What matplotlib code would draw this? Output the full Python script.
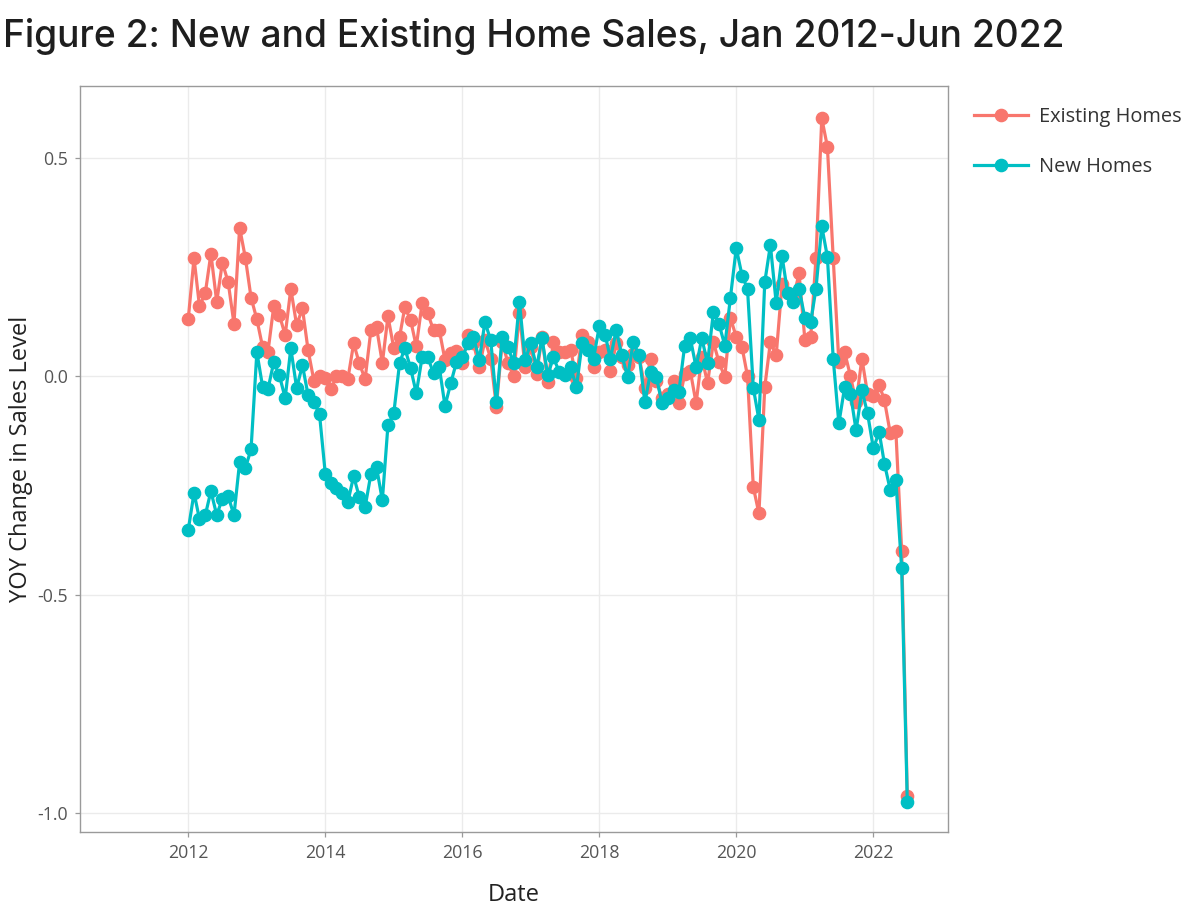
import numpy as np
import pandas as pd
import matplotlib
matplotlib.use('Agg')
import matplotlib.pyplot as plt
import matplotlib.dates as mdates

# Year-over-year change in sales level, monthly Jan 2012 - Jul 2022
existing = [
    0.13, 0.27, 0.16, 0.19, 0.28, 0.17, 0.26, 0.215, 0.12, 0.34, 0.27, 0.18,      # 2012
    0.13, 0.066, 0.055, 0.16, 0.14, 0.094, 0.20, 0.117, 0.155, 0.06, -0.01, 0.0,  # 2013
    -0.005, -0.03, 0.0, 0.0, -0.007, 0.075, 0.03, -0.007, 0.105, 0.112, 0.03, 0.137,  # 2014
    0.064, 0.09, 0.158, 0.128, 0.068, 0.167, 0.144, 0.105, 0.105, 0.037, 0.053, 0.057,  # 2015
    0.03, 0.094, 0.075, 0.02, 0.083, 0.04, -0.07, 0.078, 0.03, 0.0, 0.144, 0.02,  # 2016
    0.066, 0.005, 0.09, -0.013, 0.078, 0.055, 0.055, 0.06, -0.005, 0.095, 0.078, 0.02,  # 2017
    0.055, 0.06, 0.012, 0.075, 0.045, 0.025, 0.05, 0.045, -0.027, 0.04, -0.01, -0.05,  # 2018
    -0.04, -0.012, -0.062, 0.005, 0.012, -0.062, 0.044, -0.016, 0.078, 0.032, -0.002, 0.133,  # 2019
    0.09, 0.066, 0.0, -0.254, -0.314, -0.025, 0.078, 0.048, 0.21, 0.19, 0.18, 0.235,  # 2020
    0.083, 0.09, 0.27, 0.59, 0.525, 0.27, 0.032, 0.055, 0.0, -0.06, 0.04, -0.04,  # 2021
    -0.045, -0.02, -0.055, -0.13, -0.125, -0.40, -0.96,  # 2022
]
new = [
    -0.352, -0.267, -0.327, -0.318, -0.263, -0.318, -0.28, -0.275, -0.318, -0.197, -0.21, -0.167,  # 2012
    0.055, -0.025, -0.03, 0.032, 0.002, -0.05, 0.064, -0.027, 0.025, -0.043, -0.06, -0.087,  # 2013
    -0.224, -0.245, -0.256, -0.268, -0.288, -0.229, -0.276, -0.30, -0.224, -0.208, -0.284, -0.112,  # 2014
    -0.085, 0.03, 0.064, 0.018, -0.039, 0.043, 0.043, 0.007, 0.02, -0.068, -0.016, 0.032,  # 2015
    0.043, 0.075, 0.09, 0.037, 0.124, 0.082, -0.06, 0.09, 0.066, 0.03, 0.17, 0.037,  # 2016
    0.075, 0.02, 0.087, 0.002, 0.043, 0.01, 0.002, 0.02, -0.025, 0.075, 0.06, 0.04,  # 2017
    0.115, 0.095, 0.04, 0.105, 0.048, -0.002, 0.078, 0.048, -0.06, 0.01, -0.002, -0.062,  # 2018
    -0.05, -0.032, -0.036, 0.07, 0.087, 0.02, 0.087, 0.03, 0.146, 0.12, 0.07, 0.18,  # 2019
    0.293, 0.23, 0.20, -0.027, -0.10, 0.215, 0.30, 0.167, 0.275, 0.19, 0.17, 0.20,  # 2020
    0.133, 0.124, 0.20, 0.343, 0.273, 0.04, -0.108, -0.025, -0.04, -0.124, -0.032, -0.085,  # 2021
    -0.165, -0.128, -0.20, -0.26, -0.238, -0.44, -0.975,  # 2022
]
series_labels = ['Existing Homes', 'New Homes']
series_colors = ['#F8766D', '#00BFC4']
y_ticks = [-1.0, -0.5, 0.0, 0.5]
y_tick_labels = ['-1.0', '-0.5', '0.0', '0.5']
x_tick_years = [2012, 2014, 2016, 2018, 2020, 2022]

dates = pd.date_range('2012-01-01', periods=len(existing), freq='MS')

W, H = 1186, 910
fig = plt.figure(figsize=(W / 100, H / 100), dpi=100)
fig.patch.set_facecolor('white')

L, R, T, B = 80, 948, 86, 832
ax = fig.add_axes([L / W, 1 - B / H, (R - L) / W, (B - T) / H])
ax.set_facecolor('white')

for vals, lab, col in zip([existing, new], series_labels, series_colors):
    ax.plot(dates, vals, color=col, lw=2.3, marker='o', ms=8.8, label=lab,
            solid_joinstyle='round', zorder=3)

ax.set_xlim(pd.Timestamp('2010-06-03'), pd.Timestamp('2023-02-03'))
ax.set_ylim(-1.043, 0.664)
ax.set_yticks(y_ticks)
ax.set_yticklabels(y_tick_labels)
ax.set_xticks([pd.Timestamp(f'{y}-01-01') for y in x_tick_years])
ax.set_xticklabels([str(y) for y in x_tick_years])

ax.grid(True, color='#ebebeb', lw=1.0, zorder=0)
ax.set_axisbelow(True)
for s in ax.spines.values():
    s.set_color('#9a9a9a')
    s.set_linewidth(1.0)
ax.tick_params(axis='both', length=3.5, width=0.9, color='#9a9a9a',
               labelcolor='#555555', labelsize=12.8, pad=5)
for t in ax.get_xticklabels() + ax.get_yticklabels():
    t.set_family('Open Sans')

ax.set_xlabel('Date', family='Open Sans', fontsize=17, color='#222222', labelpad=15)
ax.set_ylabel('YOY Change in Sales Level', family='Open Sans', fontsize=17,
              color='#222222', labelpad=3)

leg = fig.legend(loc='upper left', bbox_to_anchor=(966 / W, 1 - 99 / H),
                 frameon=False, prop={'family': 'Open Sans', 'size': 14.4},
                 handlelength=2.7, labelspacing=1.5, handletextpad=0.55,
                 borderaxespad=0)
for t in leg.get_texts():
    t.set_color('#333333')

title = fig.text(3 / W, 1 - 47 / H, 'Figure 2: New and Existing Home Sales, Jan 2012-Jun 2022',
                 family='Inter', fontweight='medium', fontsize=27, color='#1e1e1e',
                 ha='left', va='baseline')
fig.canvas.draw()
bb = title.get_window_extent()
title.set_fontsize(27 * 1063 / bb.width)

fig.savefig('out.png', dpi=100, facecolor='white')
